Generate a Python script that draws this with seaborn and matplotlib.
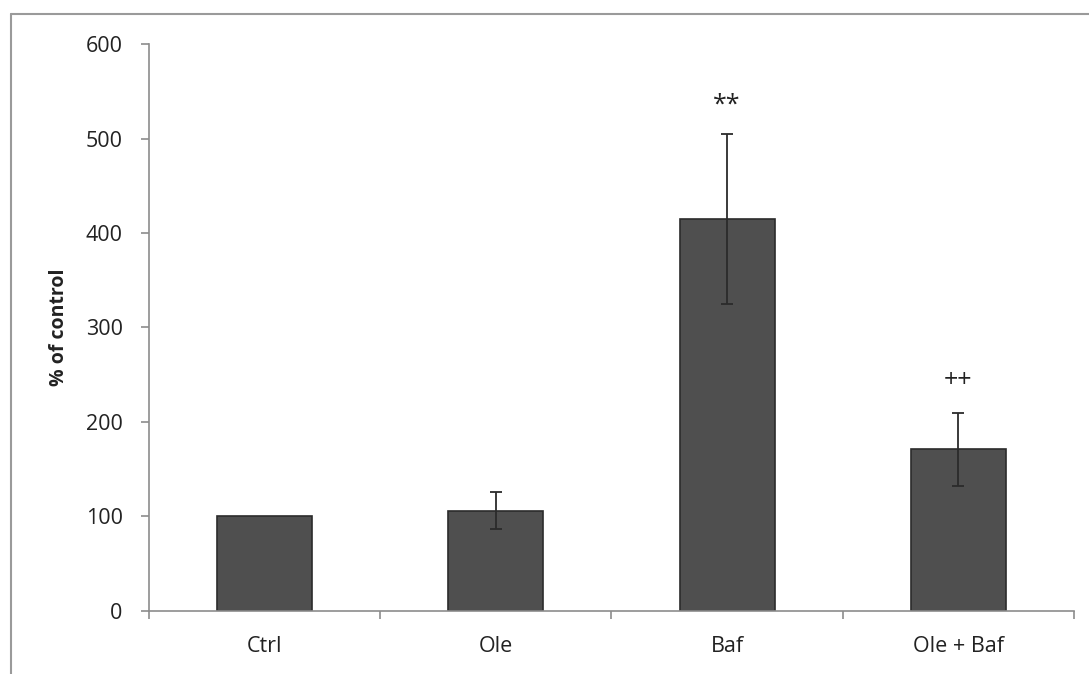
import numpy as np
import pandas as pd
import matplotlib
matplotlib.use('Agg')
import matplotlib.pyplot as plt
import seaborn as sns
from matplotlib.lines import Line2D

groups = ['Ctrl', 'Ole', 'Baf', 'Ole + Baf']
pct_control = [100, 106, 415, 171]
sem = [0, 19.5, 90, 39]
marks = ['', '', '**', '++']
mark_y = [0, 0, 535, 244]

df = pd.DataFrame({'group': groups, 'pct': pct_control})

sns.set_style('white')
plt.rcParams['font.family'] = ['Open Sans', 'DejaVu Sans']

fig = plt.figure(figsize=(10.89, 6.74), dpi=100)
ax = fig.add_axes([0.1368, 0.0935, 0.8494, 0.8412])

sns.barplot(data=df, x='group', y='pct', color='#4f4f4f', width=0.41,
            edgecolor='#2b2b2b', linewidth=1.2, saturation=1, ax=ax)

ax.errorbar(x=np.arange(len(groups))[1:], y=pct_control[1:], yerr=sem[1:],
            fmt='none', ecolor='#2b2b2b', elinewidth=1.3, capsize=4.5, capthick=1.3)

for i, (m, my) in enumerate(zip(marks, mark_y)):
    if m:
        ax.text(i, my, m, ha='center', va='center', fontsize=18, color='#222222')

ax.set_ylim(0, 600)
ax.set_xlim(-0.5, len(groups) - 0.5)
ax.set_yticks(range(0, 601, 100))
ax.set_xlabel('')
ax.set_ylabel('% of control', fontsize=14, fontweight='bold', color='#222222', labelpad=12)

for s in ['top', 'right']:
    ax.spines[s].set_visible(False)
for s in ['left', 'bottom']:
    ax.spines[s].set_color('#8c8c8c')
    ax.spines[s].set_linewidth(1.2)

ax.tick_params(axis='y', which='major', direction='out', length=6, width=1.2,
               color='#8c8c8c', labelsize=15.5, labelcolor='#222222', pad=13, left=True)
ax.tick_params(axis='x', which='major', length=0, labelsize=15.5, labelcolor='#222222', pad=18)
ax.set_xticks(np.arange(-0.5, len(groups), 1.0), minor=True)
ax.tick_params(axis='x', which='minor', direction='out', length=6, width=1.2,
               color='#8c8c8c', bottom=True)

# outer frame (top and left edges)
fig.add_artist(Line2D([11 / 1089, 1.0], [1 - 14 / 674, 1 - 14 / 674],
                      transform=fig.transFigure, color='#9a9a9a', linewidth=1.5))
fig.add_artist(Line2D([11 / 1089, 11 / 1089], [0.0, 1 - 14 / 674],
                      transform=fig.transFigure, color='#9a9a9a', linewidth=1.5))

fig.savefig('out.png', dpi=100)
